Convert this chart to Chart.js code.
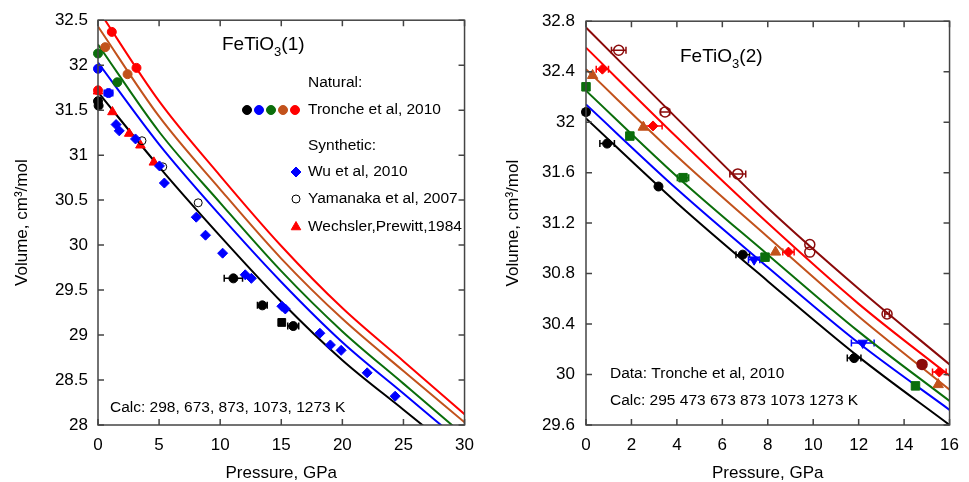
<!DOCTYPE html>
<html>
<head>
<meta charset="utf-8">
<script src="https://cdn.jsdelivr.net/npm/chart.js@4.4.1/dist/chart.umd.min.js"></script>
<style>
  body { margin: 0; background: #fff; }
  .panel { position: absolute; top: 0; }
</style>
</head>
<body>
<div class="panel" style="left:0"><canvas id="left" width="484" height="482"></canvas></div>
<div class="panel" style="left:484px"><canvas id="right" width="485" height="482"></canvas></div>
<script>
const FONT = "'Liberation Sans', Arial, Helvetica, sans-serif";
const BLACK = '#000000', BLUE = '#0000ff', GREEN = '#0b6e0b', BROWN = '#c2521c', RED = '#ff0000', MAROON = '#8b0a0a';

// ---- left panel: FeTiO3(1), calculated isotherms 298, 673, 873, 1073, 1273 K
const pressure1 = [0, 5, 10, 15, 20, 25, 30];
const calc298 = [31.70, 30.87, 30.10, 29.37, 28.72, 28.17, 27.62];
const calc673 = [32.03, 31.12, 30.33, 29.59, 28.92, 28.35, 27.78];
const calc873 = [32.23, 31.26, 30.47, 29.71, 29.04, 28.46, 27.88];
const calc1073 = [32.43, 31.43, 30.62, 29.85, 29.18, 28.60, 28.03];
const calc1273 = [32.62, 31.60, 30.77, 29.99, 29.30, 28.71, 28.12];

// Tronche et al 2010 (natural), pressure error in GPa
const nBlackP = [0, 0.05, 11.08, 13.45, 15.98];
const nBlackV = [31.60, 31.55, 29.63, 29.33, 29.10];
const nBlackErr = [0, 0.2, 0.75, 0.4, 0.45];
const nBlackSqP = [15.04];
const nBlackSqV = [29.14];
const nBlueP = [0, 0.86];
const nBlueV = [31.96, 31.69];
const nBlueErr = [0, 0.35];
const nGreenP = [0, 1.58];
const nGreenV = [32.13, 31.81];
const nBrownP = [0.59, 2.42];
const nBrownV = [32.20, 31.90];
const nRedP = [0, 1.13, 3.15];
const nRedV = [31.72, 32.37, 31.97];

// synthetic samples
const wuP = [1.48, 1.74, 3.07, 5.03, 5.43, 8.04, 8.8, 10.2, 12.05, 12.55, 15.05, 15.33, 18.16, 19.02, 19.9, 22.03, 24.32];
const wuV = [31.34, 31.27, 31.18, 30.88, 30.69, 30.31, 30.11, 29.91, 29.67, 29.63, 29.32, 29.29, 29.02, 28.89, 28.83, 28.58, 28.32];
const yamP = [3.6, 5.3, 8.2];
const yamV = [31.16, 30.87, 30.47];
const wecP = [0, 1.18, 2.55, 3.47, 4.57];
const wecV = [31.71, 31.48, 31.24, 31.11, 30.92];

// ---- right panel: FeTiO3(2), calculated isotherms 295 .. 1273 K
const pressure2 = [0, 4, 8, 12, 16];
const calc295 = [32.03, 31.36, 30.74, 30.14, 29.60];
const calc473 = [32.14, 31.47, 30.85, 30.25, 29.72];
const calc673b = [32.25, 31.57, 30.95, 30.34, 29.79];
const calc873b = [32.42, 31.73, 31.09, 30.46, 29.88];
const calc1073b = [32.59, 31.88, 31.20, 30.56, 29.99];
const calc1273b = [32.75, 32.03, 31.32, 30.68, 30.08];

// Tronche et al 2010 data at each temperature
const d295P = [0, 0.93, 3.19, 6.9, 11.8];
const d295V = [32.08, 31.83, 31.49, 30.95, 30.13];
const d295Err = [0.15, 0.32, 0, 0.3, 0.3];
const d473P = [7.4, 12.18];
const d473V = [30.91, 30.25];
const d473Err = [0.25, 0.5];
const d673P = [0, 1.93, 4.27, 7.88, 14.5];
const d673V = [32.28, 31.89, 31.56, 30.93, 29.91];
const d673Err = [0, 0, 0.25, 0, 0.1];
const d873P = [0.29, 2.52, 8.34, 15.5];
const d873V = [32.37, 31.96, 30.97, 29.92];
const d1073P = [0.72, 2.95, 8.91, 15.55];
const d1073V = [32.42, 31.97, 30.97, 30.02];
const d1073Err = [0.27, 0.4, 0.25, 0.3];
const d1273P = [1.44, 3.48, 6.68, 9.85, 9.85, 13.25, 14.79];
const d1273V = [32.57, 32.08, 31.59, 31.03, 30.97, 30.48, 30.08];
const d1273Err = [0.32, 0.2, 0.35, 0, 0, 0.1, 0];

function pts(P, V, E) {
  return P.map((p, i) => ({ x: p, y: V[i], e: E ? E[i] : 0 }));
}

function curve(P, V, color) {
  return {
    data: pts(P, V), borderColor: color, borderWidth: 2, pointRadius: 0,
    showLine: true, cubicInterpolationMode: 'monotone', order: 2
  };
}

function marks(P, V, E, color, style, radius, extra) {
  return Object.assign({
    data: pts(P, V, E), borderColor: color, backgroundColor: color,
    pointStyle: style, pointRadius: radius, pointBorderWidth: 1,
    showLine: false, clip: false, order: 1
  }, extra || {});
}

// horizontal error bars with small caps
const errorBars = {
  id: 'errorBars',
  beforeDatasetsDraw(chart) {
    const { ctx, scales: { x, y } } = chart;
    ctx.save();
    chart.data.datasets.forEach(ds => {
      ds.data.forEach(d => {
        if (!d.e) return;
        const x0 = x.getPixelForValue(d.x - d.e), x1 = x.getPixelForValue(d.x + d.e);
        const py = y.getPixelForValue(d.y);
        ctx.strokeStyle = ds.borderColor;
        ctx.lineWidth = 1.5;
        ctx.beginPath();
        ctx.moveTo(x0, py); ctx.lineTo(x1, py);
        ctx.moveTo(x0, py - 3.5); ctx.lineTo(x0, py + 3.5);
        ctx.moveTo(x1, py - 3.5); ctx.lineTo(x1, py + 3.5);
        ctx.stroke();
      });
    });
    ctx.restore();
  }
};

// box round the plot, ticks pointing inward on all four sides
const frame = {
  id: 'frame',
  afterDraw(chart) {
    const { ctx, chartArea: a, scales: { x, y } } = chart;
    ctx.save();
    ctx.strokeStyle = '#444';
    ctx.lineWidth = 1.5;
    ctx.strokeRect(a.left, a.top, a.right - a.left, a.bottom - a.top);
    ctx.beginPath();
    x.ticks.forEach(t => {
      const px = x.getPixelForValue(t.value);
      ctx.moveTo(px, a.bottom); ctx.lineTo(px, a.bottom - 6);
      ctx.moveTo(px, a.top); ctx.lineTo(px, a.top + 6);
    });
    y.ticks.forEach(t => {
      const py = y.getPixelForValue(t.value);
      ctx.moveTo(a.left, py); ctx.lineTo(a.left + 6, py);
      ctx.moveTo(a.right, py); ctx.lineTo(a.right - 6, py);
    });
    ctx.stroke();
    ctx.restore();
  }
};

function formula(ctx, x, y, tail) {
  ctx.fillStyle = '#000';
  ctx.textAlign = 'left';
  ctx.textBaseline = 'alphabetic';
  ctx.font = '19px ' + FONT;
  ctx.fillText('FeTiO', x, y);
  let w = ctx.measureText('FeTiO').width;
  ctx.font = '13px ' + FONT;
  ctx.fillText('3', x + w, y + 6);
  w += ctx.measureText('3').width;
  ctx.font = '19px ' + FONT;
  ctx.fillText(tail, x + w, y);
}

function text(ctx, s, x, y) {
  ctx.fillStyle = '#000';
  ctx.textAlign = 'left';
  ctx.textBaseline = 'middle';
  ctx.font = '15.5px ' + FONT;
  ctx.fillText(s, x, y);
}

function marker(ctx, style, color, x, y, radius, fill) {
  ctx.fillStyle = fill === false ? 'rgba(0,0,0,0)' : color;
  ctx.strokeStyle = color;
  ctx.lineWidth = 1;
  Chart.helpers.drawPoint(ctx, { pointStyle: style, radius: radius, rotation: 0, borderWidth: 1 }, x, y);
}

const notesLeft = {
  id: 'notesLeft',
  afterDraw(chart) {
    const ctx = chart.ctx;
    ctx.save();
    formula(ctx, 222, 50, '(1)');
    text(ctx, 'Natural:', 308, 83);
    [BLACK, BLUE, GREEN, BROWN, RED].forEach((c, i) => marker(ctx, 'circle', c, 247 + i * 12, 110, 4.5));
    text(ctx, 'Tronche et al, 2010', 308, 110);
    text(ctx, 'Synthetic:', 308, 146);
    marker(ctx, 'rectRot', BLUE, 296, 172, 5);
    text(ctx, 'Wu et al, 2010', 308, 172);
    marker(ctx, 'circle', BLACK, 296, 199, 4, false);
    text(ctx, 'Yamanaka et al, 2007', 308, 199);
    marker(ctx, 'triangle', RED, 296, 227, 5.5);
    text(ctx, 'Wechsler,Prewitt,1984', 308, 227);
    text(ctx, 'Calc: 298, 673, 873, 1073, 1273 K', 110, 408);
    ctx.restore();
  }
};

const notesRight = {
  id: 'notesRight',
  afterDraw(chart) {
    const ctx = chart.ctx;
    ctx.save();
    formula(ctx, 196, 62, '(2)');
    text(ctx, 'Data: Tronche et al, 2010', 126, 374);
    text(ctx, 'Calc: 295 473 673 873 1073 1273 K', 126, 401);
    ctx.restore();
  }
};

const fmt = v => String(Math.round(v * 10) / 10);

function makeChart(id, datasets, xr, yr, yWidth, yTitlePad, yTickPad, padRight, extra) {
  return new Chart(document.getElementById(id), {
    type: 'scatter',
    data: { datasets },
    options: {
      responsive: false,
      animation: false,
      events: [],
      layout: { padding: { left: 0, right: padRight, top: 19, bottom: 0 } },
      plugins: { legend: { display: false }, tooltip: { enabled: false } },
      scales: {
        x: {
          type: 'linear', min: xr[0], max: xr[1],
          grid: { display: false, drawTicks: false }, border: { display: false },
          ticks: { stepSize: xr[2], padding: 10, color: '#000', font: { family: FONT, size: 17 }, callback: fmt },
          title: { display: true, text: 'Pressure, GPa', color: '#000', font: { family: FONT, size: 17, lineHeight: 1 }, padding: { top: 0, bottom: 0 } },
          afterFit: s => { s.height = 57; }
        },
        y: {
          type: 'linear', min: yr[0], max: yr[1],
          grid: { display: false, drawTicks: false }, border: { display: false },
          ticks: { stepSize: yr[2], padding: yTickPad, color: '#000', font: { family: FONT, size: 17 }, callback: fmt },
          title: { display: true, text: 'Volume, cm³/mol', color: '#000', font: { family: FONT, size: 17, lineHeight: 1 }, padding: { top: yTitlePad, bottom: 0 } },
          afterFit: s => { s.width = yWidth; }
        }
      }
    },
    plugins: [errorBars, frame, extra]
  });
}

makeChart('left', [
  marks(nBlackP, nBlackV, nBlackErr, BLACK, 'circle', 4.5),
  marks(nBlackSqP, nBlackSqV, null, BLACK, 'rect', 5.5),
  marks(nBlueP, nBlueV, nBlueErr, BLUE, 'circle', 4.5),
  marks(nGreenP, nGreenV, null, GREEN, 'circle', 4.5),
  marks(nBrownP, nBrownV, null, BROWN, 'circle', 4.5),
  marks(nRedP, nRedV, null, RED, 'circle', 4.5),
  marks(wuP, wuV, null, BLUE, 'rectRot', 5),
  marks(yamP, yamV, null, BLACK, 'circle', 4, { backgroundColor: 'rgba(0,0,0,0)' }),
  marks(wecP, wecV, null, RED, 'triangle', 5.5),
  curve(pressure1, calc298, BLACK),
  curve(pressure1, calc673, BLUE),
  curve(pressure1, calc873, GREEN),
  curve(pressure1, calc1073, BROWN),
  curve(pressure1, calc1273, RED)
], [0, 30, 5], [28, 32.5, 0.5], 98, 13.5, 10, 14.5, notesLeft);

makeChart('right', [
  marks(d295P, d295V, d295Err, BLACK, 'circle', 4.5),
  marks(d473P, d473V, d473Err, BLUE, 'triangle', 5.5, { pointRotation: 180 }),
  marks(d673P, d673V, d673Err, GREEN, 'rect', 6),
  marks(d873P, d873V, null, BROWN, 'triangle', 6),
  marks(d1073P, d1073V, d1073Err, RED, 'rectRot', 5),
  marks(d1273P, d1273V, d1273Err, MAROON, 'circle', 5, {
    backgroundColor: d1273P.map((p, i) => i === d1273P.length - 1 ? MAROON : 'rgba(0,0,0,0)'),
    pointBorderWidth: 1.5
  }),
  curve(pressure2, calc295, BLACK),
  curve(pressure2, calc473, BLUE),
  curve(pressure2, calc673b, GREEN),
  curve(pressure2, calc873b, BROWN),
  curve(pressure2, calc1073b, RED),
  curve(pressure2, calc1273b, MAROON)
], [0, 16, 2], [29.6, 32.8, 0.4], 102, 20.5, 11, 12, notesRight);
</script>
</body>
</html>
